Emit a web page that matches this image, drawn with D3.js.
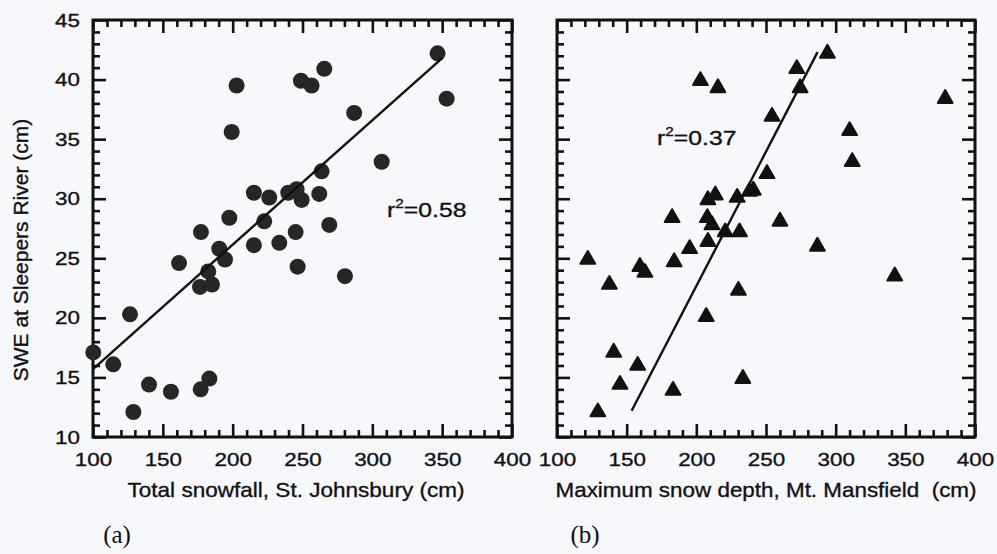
<!DOCTYPE html>
<html>
<head>
<meta charset="utf-8">
<script src="https://cdn.jsdelivr.net/npm/d3@7"></script>
<style>
  body { margin: 0; background: #f7f8fc; }
  svg { display: block; }
  .tick text { font-family: "Liberation Sans", Arial, sans-serif; font-size: 19px; fill: #111; stroke: #111; stroke-width: 0.35px; }
  .lbl { font-family: "Liberation Sans", Arial, sans-serif; fill: #111; stroke: #111; stroke-width: 0.35px; white-space: pre; }
</style>
</head>
<body>
<div id="chart"></div>
<script>
// panel (a): total snowfall at St. Johnsbury vs SWE at Sleepers River
const snowfallA = [346.7, 353.2, 202.8, 199.3, 248.9, 256.5, 265.6, 287, 306.7, 263.7,
  215.2, 226.2, 239.8, 245.8, 249.4, 262, 197.6, 269.2, 222.6, 177.3,
  245.1, 215.2, 233.4, 190.4, 194.5, 161.6, 246.5, 280.4, 182.5, 176.6,
  185.2, 126.5, 100.2, 114.5, 140.1, 155.8, 177.1, 183.3, 128.9];
const sweA = [42.2, 38.4, 39.5, 35.6, 39.9, 39.5, 40.9, 37.2, 33.1, 32.3,
  30.5, 30.1, 30.5, 30.8, 29.9, 30.4, 28.4, 27.8, 28.1, 27.2,
  27.2, 26.1, 26.3, 25.8, 24.9, 24.6, 24.3, 23.5, 23.9, 22.6,
  22.8, 20.3, 17.1, 16.1, 14.4, 13.8, 14.0, 14.9, 12.1];

// panel (b): max snow depth at Mt. Mansfield vs SWE
const depthB = [294.1, 272.1, 274.5, 202.9, 215.5, 378.6, 254.3, 310, 311.9, 250.7,
  240.9, 238.1, 229.3, 213.6, 208.3, 182.6, 207.9, 211.2, 260, 220.7,
  231, 208.3, 195.2, 286.9, 122.1, 184.1, 159.5, 163.1, 342.4, 137.6,
  230.2, 207.1, 140.7, 157.9, 145.2, 233.4, 183.3, 129.3];
const sweB = [42.2, 40.9, 39.3, 39.9, 39.3, 38.4, 36.9, 35.7, 33.1, 32.1,
  30.7, 30.6, 30.1, 30.3, 29.9, 28.4, 28.4, 27.8, 28.1, 27.2,
  27.2, 26.4, 25.8, 26.0, 24.9, 24.7, 24.3, 23.8, 23.5, 22.8,
  22.3, 20.1, 17.1, 16.0, 14.4, 14.9, 13.9, 12.1];

// regression lines (end points)
const fitA = [[100, 15.7], [350, 41.8]];
const fitB = [[153.6, 12.2], [287, 42.3]];

const xTicks = [100, 150, 200, 250, 300, 350, 400];
const yTicks = [10, 15, 20, 25, 30, 35, 40, 45];
const xTitles = ["Total snowfall, St. Johnsbury (cm)", "Maximum snow depth, Mt. Mansfield  (cm)"];
const r2Labels = ["0.58", "0.37"];
const panelTags = ["(a)", "(b)"];

const W = 997, H = 554;
const plotTop = 20, plotBottom = 437;
const stretch = 1.18; // scanned text is a bit wide

const svg = d3.select('#chart').append('svg')
  .attr('width', W).attr('height', H);

const y = d3.scaleLinear().domain([10, 45]).range([plotBottom, plotTop]);

const panels = [
  { x0: 93, x1: 512, xs: snowfallA, ys: sweA, fit: fitA, mark: 'circle',
    r2: { x: 387, y: 217 }, yLabels: true, titleX: 296, titleW: 337, tagX: 117 },
  { x0: 557, x1: 975, xs: depthB, ys: sweB, fit: fitB, mark: 'triangle',
    r2: { x: 657, y: 145 }, yLabels: false, titleX: 766, titleW: 421, tagX: 585 }
];

const minorX = d3.range(100, 401, 10).filter(v => v % 50 !== 0);
const minorY = d3.range(10, 46, 1).filter(v => v % 5 !== 0);

panels.forEach((p, i) => {
  const x = d3.scaleLinear().domain([100, 400]).range([p.x0, p.x1]);
  const g = svg.append('g');

  // inward ticks on all four sides
  const addAxis = (axis, tf, vals, size, labels) => {
    const a = axis.tickValues(vals).tickSize(-size).tickPadding(0);
    if (!labels) a.tickFormat('');
    const ag = g.append('g').attr('transform', tf).call(a);
    ag.select('.domain').remove();
    ag.selectAll('line').attr('stroke', '#111').attr('stroke-width', 2.6);
    return ag;
  };
  const bx = addAxis(d3.axisBottom(x), `translate(0,${plotBottom})`, xTicks, 13, true);
  bx.selectAll('text').attr('y', 0).attr('dy', 0)
    .attr('transform', `translate(0,29) scale(${stretch},1)`);
  addAxis(d3.axisBottom(x), `translate(0,${plotBottom})`, minorX, 7, false);
  addAxis(d3.axisTop(x), `translate(0,${plotTop})`, xTicks, 13, false);
  addAxis(d3.axisTop(x), `translate(0,${plotTop})`, minorX, 7, false);
  const ly = addAxis(d3.axisLeft(y), `translate(${p.x0},0)`, yTicks, 13, p.yLabels);
  ly.selectAll('text').attr('x', 0)
    .attr('transform', `translate(-13,0) scale(${stretch},1)`);
  addAxis(d3.axisLeft(y), `translate(${p.x0},0)`, minorY, 7, false);
  addAxis(d3.axisRight(y), `translate(${p.x1},0)`, yTicks, 13, false);
  addAxis(d3.axisRight(y), `translate(${p.x1},0)`, minorY, 7, false);

  g.selectAll('.tick text').attr('fill', '#111');

  g.append('rect')
    .attr('x', p.x0).attr('y', plotTop)
    .attr('width', p.x1 - p.x0).attr('height', plotBottom - plotTop)
    .attr('fill', 'none').attr('stroke', '#111').attr('stroke-width', 3);

  // points
  const pts = p.xs.map((v, k) => [v, p.ys[k]]);
  if (p.mark === 'circle') {
    g.selectAll('.pt').data(pts).enter().append('circle')
      .attr('cx', d => x(d[0])).attr('cy', d => y(d[1]))
      .attr('r', 8).attr('fill', '#262626');
  } else {
    const tri = d3.symbol().type(d3.symbolTriangle).size(95);
    g.selectAll('.pt').data(pts).enter().append('path')
      .attr('d', tri)
      .attr('transform', d => `translate(${x(d[0])},${y(d[1])})`)
      .attr('fill', '#111').attr('stroke', '#111').attr('stroke-width', 2)
      .attr('stroke-linejoin', 'round');
  }

  // regression line
  g.append('path')
    .attr('d', d3.line().x(d => x(d[0])).y(d => y(d[1]))(p.fit))
    .attr('fill', 'none').attr('stroke', '#111').attr('stroke-width', 2.4);

  // r^2 label
  const t = g.append('text').attr('class', 'lbl')
    .attr('transform', `translate(${p.r2.x},${p.r2.y}) scale(${stretch},1)`)
    .attr('font-size', 21);
  t.append('tspan').text('r');
  t.append('tspan').attr('font-size', 13).attr('dy', -9).text('2');
  t.append('tspan').attr('dy', 9).text('=' + r2Labels[i]);

  // x title
  g.append('text').attr('class', 'lbl')
    .attr('x', p.titleX - p.titleW / 2).attr('y', 497)
    .attr('font-size', 21)
    .attr('textLength', p.titleW).attr('lengthAdjust', 'spacingAndGlyphs')
    .text(xTitles[i]);

  // panel tag
  g.append('text')
    .attr('x', p.tagX).attr('y', 543)
    .attr('text-anchor', 'middle')
    .attr('font-family', '"Liberation Serif", "Times New Roman", serif')
    .attr('font-size', 25).attr('fill', '#111')
    .text(panelTags[i]);
});

// y title
svg.append('text').attr('class', 'lbl')
  .attr('transform', `translate(28,250) rotate(-90)`)
  .attr('text-anchor', 'middle').attr('font-size', 21)
  .text('SWE at Sleepers River (cm)');
</script>
</body>
</html>
